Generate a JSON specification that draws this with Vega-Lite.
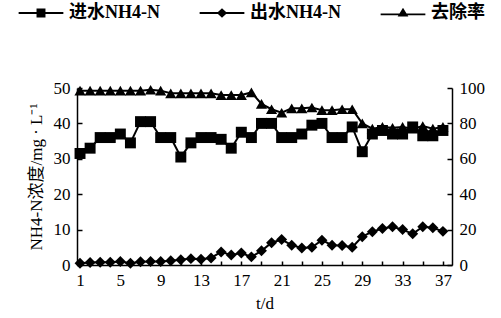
{
  "$schema": "https://vega.github.io/schema/vega-lite/v6.json",
  "width": 375,
  "height": 177,
  "autosize": {"type": "none"},
  "padding": {"left": 77, "top": 88, "right": 49, "bottom": 53},
  "background": "white",
  "config": {
    "view": {"stroke": null},
    "axis": {
      "grid": false,
      "domainColor": "black",
      "domainWidth": 1.5,
      "tickColor": "black",
      "tickWidth": 1.5,
      "labelFont": "Liberation Serif",
      "labelFontSize": 17,
      "labelColor": "black",
      "titleFont": "Liberation Serif, Noto Sans CJK SC",
      "titleFontSize": 17,
      "titleFontWeight": "normal",
      "titleColor": "black"
    }
  },
  "data": {
    "values": [
      {"d":1,"s":"进水NH4-N","v":31.5},{"d":2,"s":"进水NH4-N","v":33},{"d":3,"s":"进水NH4-N","v":36},{"d":4,"s":"进水NH4-N","v":36},{"d":5,"s":"进水NH4-N","v":37},{"d":6,"s":"进水NH4-N","v":34.5},{"d":7,"s":"进水NH4-N","v":40.5},{"d":8,"s":"进水NH4-N","v":40.5},{"d":9,"s":"进水NH4-N","v":36},{"d":10,"s":"进水NH4-N","v":36},{"d":11,"s":"进水NH4-N","v":30.5},{"d":12,"s":"进水NH4-N","v":34.5},{"d":13,"s":"进水NH4-N","v":36},{"d":14,"s":"进水NH4-N","v":36},{"d":15,"s":"进水NH4-N","v":35.5},{"d":16,"s":"进水NH4-N","v":33},{"d":17,"s":"进水NH4-N","v":37.5},{"d":18,"s":"进水NH4-N","v":36},{"d":19,"s":"进水NH4-N","v":40},{"d":20,"s":"进水NH4-N","v":40},{"d":21,"s":"进水NH4-N","v":36},{"d":22,"s":"进水NH4-N","v":36},{"d":23,"s":"进水NH4-N","v":37},{"d":24,"s":"进水NH4-N","v":39.5},{"d":25,"s":"进水NH4-N","v":40},{"d":26,"s":"进水NH4-N","v":36},{"d":27,"s":"进水NH4-N","v":36},{"d":28,"s":"进水NH4-N","v":39},{"d":29,"s":"进水NH4-N","v":32},{"d":30,"s":"进水NH4-N","v":37},{"d":31,"s":"进水NH4-N","v":38},{"d":32,"s":"进水NH4-N","v":37},{"d":33,"s":"进水NH4-N","v":37},{"d":34,"s":"进水NH4-N","v":39},{"d":35,"s":"进水NH4-N","v":36.5},{"d":36,"s":"进水NH4-N","v":36.5},{"d":37,"s":"进水NH4-N","v":38},
      {"d":1,"s":"出水NH4-N","v":0.5},{"d":2,"s":"出水NH4-N","v":0.7},{"d":3,"s":"出水NH4-N","v":0.8},{"d":4,"s":"出水NH4-N","v":0.8},{"d":5,"s":"出水NH4-N","v":1},{"d":6,"s":"出水NH4-N","v":0.5},{"d":7,"s":"出水NH4-N","v":0.9},{"d":8,"s":"出水NH4-N","v":1},{"d":9,"s":"出水NH4-N","v":1},{"d":10,"s":"出水NH4-N","v":1.2},{"d":11,"s":"出水NH4-N","v":1.5},{"d":12,"s":"出水NH4-N","v":1.8},{"d":13,"s":"出水NH4-N","v":1.6},{"d":14,"s":"出水NH4-N","v":2},{"d":15,"s":"出水NH4-N","v":3.7},{"d":16,"s":"出水NH4-N","v":2.8},{"d":17,"s":"出水NH4-N","v":3.4},{"d":18,"s":"出水NH4-N","v":2.3},{"d":19,"s":"出水NH4-N","v":4},{"d":20,"s":"出水NH4-N","v":6.3},{"d":21,"s":"出水NH4-N","v":7.2},{"d":22,"s":"出水NH4-N","v":5.6},{"d":23,"s":"出水NH4-N","v":4.8},{"d":24,"s":"出水NH4-N","v":5},{"d":25,"s":"出水NH4-N","v":7},{"d":26,"s":"出水NH4-N","v":5.6},{"d":27,"s":"出水NH4-N","v":5.5},{"d":28,"s":"出水NH4-N","v":5},{"d":29,"s":"出水NH4-N","v":8},{"d":30,"s":"出水NH4-N","v":9.4},{"d":31,"s":"出水NH4-N","v":10.3},{"d":32,"s":"出水NH4-N","v":10.8},{"d":33,"s":"出水NH4-N","v":10},{"d":34,"s":"出水NH4-N","v":8.8},{"d":35,"s":"出水NH4-N","v":10.8},{"d":36,"s":"出水NH4-N","v":10.5},{"d":37,"s":"出水NH4-N","v":9.5},
      {"d":1,"s":"去除率","v":98.5},{"d":2,"s":"去除率","v":98.5},{"d":3,"s":"去除率","v":98.5},{"d":4,"s":"去除率","v":98.5},{"d":5,"s":"去除率","v":98.5},{"d":6,"s":"去除率","v":98.5},{"d":7,"s":"去除率","v":98.5},{"d":8,"s":"去除率","v":99},{"d":9,"s":"去除率","v":98.5},{"d":10,"s":"去除率","v":97},{"d":11,"s":"去除率","v":97},{"d":12,"s":"去除率","v":97},{"d":13,"s":"去除率","v":97},{"d":14,"s":"去除率","v":97},{"d":15,"s":"去除率","v":96},{"d":16,"s":"去除率","v":96},{"d":17,"s":"去除率","v":96},{"d":18,"s":"去除率","v":97.5},{"d":19,"s":"去除率","v":91},{"d":20,"s":"去除率","v":88},{"d":21,"s":"去除率","v":86},{"d":22,"s":"去除率","v":88.5},{"d":23,"s":"去除率","v":88.5},{"d":24,"s":"去除率","v":89},{"d":25,"s":"去除率","v":87.5},{"d":26,"s":"去除率","v":87.5},{"d":27,"s":"去除率","v":88},{"d":28,"s":"去除率","v":88},{"d":29,"s":"去除率","v":80},{"d":30,"s":"去除率","v":77},{"d":31,"s":"去除率","v":78},{"d":32,"s":"去除率","v":77.5},{"d":33,"s":"去除率","v":78},{"d":34,"s":"去除率","v":77},{"d":35,"s":"去除率","v":78.5},{"d":36,"s":"去除率","v":77},{"d":37,"s":"去除率","v":78}
    ]
  },
  "encoding": {
    "x": {
      "field": "d",
      "type": "quantitative",
      "scale": {"domain": [0.7, 37.9], "nice": false, "zero": false},
      "axis": {
        "title": "t/d",
        "values": [1,3,5,7,9,11,13,15,17,19,21,23,25,27,29,31,33,35,37],
        "labelExpr": "(datum.value - 1) % 4 == 0 ? datum.label : ''",
        "tickSize": -4,
        "labelPadding": 11,
        "titlePadding": 7,
        "labelFlush": false
      }
    }
  },
  "layer": [
    {
      "transform": [{"filter": "datum.s !== '去除率'"}],
      "encoding": {
        "y": {
          "field": "v",
          "type": "quantitative",
          "scale": {"domain": [0, 50], "nice": false},
          "axis": {
            "orient": "left",
            "title": "NH4-N浓度/mg · L⁻¹",
            "values": [0,10,20,30,40,50],
            "tickSize": -5,
            "labelPadding": 12,
            "titlePadding": 8
          }
        }
      },
      "layer": [
        {
          "mark": {"type": "line", "color": "black", "strokeWidth": 2},
          "encoding": {"detail": {"field": "s"}}
        },
        {
          "transform": [{"filter": "datum.s === '进水NH4-N'"}],
          "mark": {"type": "point", "shape": "square", "filled": true, "color": "black", "opacity": 1, "size": 120},
          "encoding": {}
        },
        {
          "transform": [{"filter": "datum.s === '出水NH4-N'"}],
          "mark": {"type": "point", "shape": "diamond", "filled": true, "color": "black", "opacity": 1, "size": 120},
          "encoding": {}
        },
        {
          "transform": [{"filter": "datum.d < 0"}],
          "mark": {"type": "point", "filled": true, "color": "black", "opacity": 1, "size": 80},
          "encoding": {
            "shape": {
              "field": "s",
              "type": "nominal",
              "scale": {
                "domain": ["进水NH4-N", "出水NH4-N", "去除率"],
                "range": [
                  "M-5,-0.2H5V0.2H-5ZM-1,-1H1V1H-1Z",
                  "M-5,-0.2H5V0.2H-5ZM-1.15,0L0,-1.05L1.15,0L0,1.05Z",
                  "M-5,0.1H5V0.5H-5ZM-1.2,0.8L0,-1.2L1.2,0.8Z"
                ]
              },
              "legend": {
                "title": null,
                "orient": "none",
                "direction": "horizontal",
                "legendX": -62,
                "legendY": -84,
                "symbolSize": 80,
                "symbolOffset": 17,
                "symbolFillColor": "black",
                "symbolOpacity": 1,
                "labelOffset": 19,
                "columnPadding": 36,
                "labelFont": "Liberation Serif, Noto Sans CJK SC",
                "labelFontSize": 18,
                "labelFontWeight": "bold",
                "labelColor": "black"
              }
            }
          }
        }
      ]
    },
    {
      "transform": [{"filter": "datum.s === '去除率'"}],
      "encoding": {
        "y": {
          "field": "v",
          "type": "quantitative",
          "scale": {"domain": [0, 100], "nice": false},
          "axis": {
            "orient": "right",
            "title": null,
            "values": [0,20,40,60,80,100],
            "tickSize": -5,
            "labelPadding": 12
          }
        }
      },
      "layer": [
        {
          "mark": {"type": "line", "color": "black", "strokeWidth": 2},
          "encoding": {}
        },
        {
          "mark": {"type": "point", "shape": "triangle-up", "filled": true, "color": "black", "opacity": 1, "size": 125},
          "encoding": {}
        }
      ]
    }
  ],
  "resolve": {"scale": {"y": "independent"}}
}
